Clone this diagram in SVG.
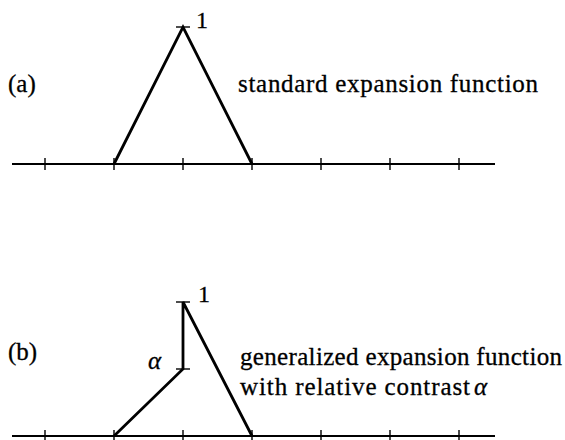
<svg xmlns="http://www.w3.org/2000/svg" width="565" height="440" viewBox="0 0 565 440">
<style>
.ax{stroke:#000;stroke-width:2.2;fill:none}
.tk{stroke:#000;stroke-width:1.4;fill:none}
.fn{stroke:#000;stroke-width:2.8;fill:none;stroke-linejoin:miter}
.txt{font-family:"Liberation Serif","DejaVu Serif",serif;fill:#000;stroke:#000;stroke-width:0.3}
.lbl{font-size:25px}
.num{font-size:24px}
.it{font-style:italic}
</style>
<rect width="565" height="440" fill="#fff"/>
<g id="panel-a">
  <g id="axis-a">
    <line class="ax" x1="12" y1="164" x2="495" y2="164"/>
    <path class="tk" d="M45 158v12M114 158v12M183 158v12M252 158v12M321 158v12M390 158v12M459 158v12"/>
  </g>
  <g id="func-a">
    <polyline class="fn" points="114,164 183,27 252,164"/>
    <line class="tk" x1="176" y1="27" x2="190" y2="27"/>
  </g>
  <g class="txt">
    <text id="label-a" class="lbl" x="8" y="92">(a)</text>
    <text id="one-a" class="num" x="196" y="28">1</text>
    <text id="caption-a" class="lbl" x="238" y="92" textLength="300">standard expansion function</text>
  </g>
</g>
<g id="panel-b">
  <g id="axis-b">
    <line class="ax" x1="12" y1="436" x2="495" y2="436"/>
    <path class="tk" d="M45 430v12M114 430v12M183 430v12M252 430v12M321 430v12M390 430v12M459 430v12"/>
  </g>
  <g id="func-b">
    <polyline class="fn" points="114,436 183,369 183,302 252,436"/>
    <line class="tk" x1="176" y1="302" x2="190" y2="302"/>
    <line class="tk" x1="176" y1="369" x2="190" y2="369"/>
  </g>
  <g class="txt">
    <text id="label-b" class="lbl" x="8" y="360">(b)</text>
    <text id="one-b" class="num" x="198" y="302">1</text>
    <text id="alpha-b" class="lbl it" x="148" y="369">α</text>
    <text id="caption-b1" class="lbl" x="240" y="365" textLength="322">generalized expansion function</text>
    <text id="caption-b2" class="lbl" x="240" y="395" textLength="230">with relative contrast</text>
    <text id="caption-b3" class="lbl it" x="474" y="395">α</text>
  </g>
</g>
</svg>
